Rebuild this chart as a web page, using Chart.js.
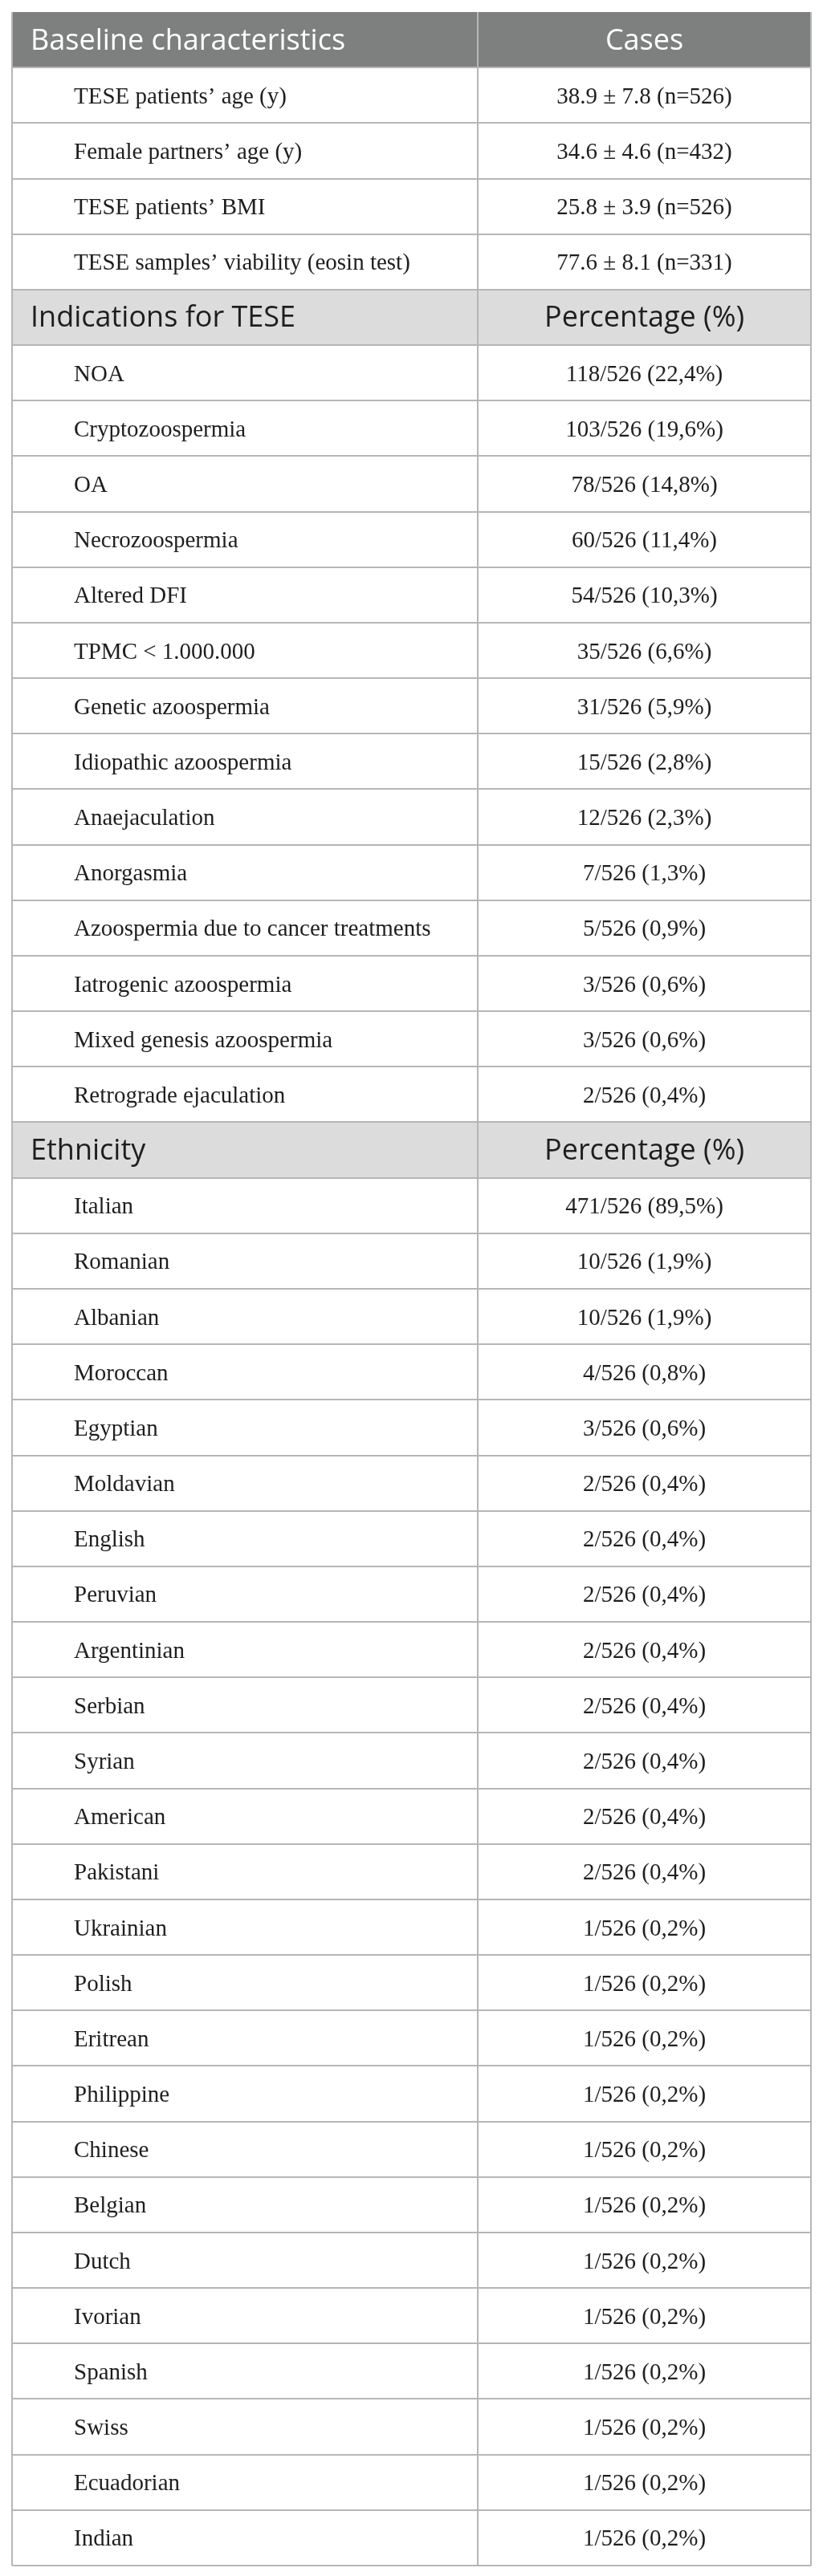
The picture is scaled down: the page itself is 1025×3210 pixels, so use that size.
<!DOCTYPE html>
<html>
<head>
<meta charset="utf-8">
<script src="https://cdn.jsdelivr.net/npm/chart.js@4/dist/chart.umd.min.js"></script>
<style>
  html, body { margin: 0; padding: 0; background: #fff; }
  #wrap { width: 1025px; height: 3210px; }
</style>
</head>
<body>
<div id="wrap"><canvas id="tableChart" width="1025" height="3210"></canvas></div>
<script>
// table content
const mainHeader = ['Baseline characteristics', 'Cases'];
const baselineLabels = ['TESE patients’ age (y)', 'Female partners’ age (y)', 'TESE patients’ BMI', 'TESE samples’ viability (eosin test)'];
const baselineMeans = [38.9, 34.6, 25.8, 77.6];
const baselineSDs = [7.8, 4.6, 3.9, 8.1];
const baselineN = [526, 432, 526, 331];

const indicationHeader = ['Indications for TESE', 'Percentage (%)'];
const indicationLabels = ['NOA', 'Cryptozoospermia', 'OA', 'Necrozoospermia', 'Altered DFI', 'TPMC < 1.000.000',
  'Genetic azoospermia', 'Idiopathic azoospermia', 'Anaejaculation', 'Anorgasmia',
  'Azoospermia due to cancer treatments', 'Iatrogenic azoospermia', 'Mixed genesis azoospermia', 'Retrograde ejaculation'];
const indicationCounts = [118, 103, 78, 60, 54, 35, 31, 15, 12, 7, 5, 3, 3, 2];
const indicationPct = [22.4, 19.6, 14.8, 11.4, 10.3, 6.6, 5.9, 2.8, 2.3, 1.3, 0.9, 0.6, 0.6, 0.4];

const ethnicityHeader = ['Ethnicity', 'Percentage (%)'];
const ethnicityLabels = ['Italian', 'Romanian', 'Albanian', 'Moroccan', 'Egyptian', 'Moldavian', 'English', 'Peruvian',
  'Argentinian', 'Serbian', 'Syrian', 'American', 'Pakistani', 'Ukrainian', 'Polish', 'Eritrean', 'Philippine',
  'Chinese', 'Belgian', 'Dutch', 'Ivorian', 'Spanish', 'Swiss', 'Ecuadorian', 'Indian'];
const ethnicityCounts = [471, 10, 10, 4, 3, 2, 2, 2, 2, 2, 2, 2, 2, 1, 1, 1, 1, 1, 1, 1, 1, 1, 1, 1, 1];
const ethnicityPct = [89.5, 1.9, 1.9, 0.8, 0.6, 0.4, 0.4, 0.4, 0.4, 0.4, 0.4, 0.4, 0.4, 0.2, 0.2, 0.2, 0.2, 0.2, 0.2, 0.2, 0.2, 0.2, 0.2, 0.2, 0.2];

const total = 526;
const colSplit = 0.583;  // share of width for the first column

function pct(n, p) {
    return n + '/' + total + ' (' + p.toFixed(1).replace('.', ',') + '%)';
}

// flatten everything into table rows
const rows = [];
rows.push({ type: 'main', label: mainHeader[0], value: mainHeader[1] });
baselineLabels.forEach((l, i) => rows.push({ type: 'item', label: l,
    value: baselineMeans[i].toFixed(1) + ' ± ' + baselineSDs[i].toFixed(1) + ' (n=' + baselineN[i] + ')' }));
rows.push({ type: 'section', label: indicationHeader[0], value: indicationHeader[1] });
indicationLabels.forEach((l, i) => rows.push({ type: 'item', label: l, value: pct(indicationCounts[i], indicationPct[i]) }));
rows.push({ type: 'section', label: ethnicityHeader[0], value: ethnicityHeader[1] });
ethnicityLabels.forEach((l, i) => rows.push({ type: 'item', label: l, value: pct(ethnicityCounts[i], ethnicityPct[i]) }));

const fills = { main: '#7e807f', section: '#dcdcdc', item: '#ffffff' };
const lineColor = '#b6b6b6';

// writes the cell texts at the positions given by the scales
const cellText = {
    id: 'cellText',
    afterDraw(chart) {
        const ctx = chart.ctx;
        const xs = chart.scales.x, ys = chart.scales.y;
        const left = xs.getPixelForValue(0);
        const mid = xs.getPixelForValue((colSplit + 1) / 2);
        ctx.save();
        ctx.textBaseline = 'alphabetic';
        rows.forEach((r, i) => {
            const y = ys.getPixelForValue(i);
            if (r.type === 'item') {
                ctx.font = '29px "Liberation Serif", "DejaVu Serif", serif';
                ctx.fillStyle = '#1e1e1e';
                ctx.textAlign = 'left';
                ctx.fillText(r.label, left + 77, y + 10);
                ctx.textAlign = 'center';
                ctx.fillText(r.value, mid, y + 10);
            } else {
                ctx.font = '36px "Open Sans", "Noto Sans", sans-serif';
                ctx.fillStyle = r.type === 'main' ? '#ffffff' : '#1e1e1e';
                ctx.textAlign = 'left';
                ctx.fillText(r.label, left + 23, y + 12);
                ctx.textAlign = 'center';
                ctx.fillText(r.value, mid, y + 12);
            }
        });
        ctx.restore();
    }
};

const ctx = document.getElementById('tableChart').getContext('2d');
const tableChart = new Chart(ctx, {
    type: 'bar',
    data: {
        labels: rows.map((r, i) => String(i)),
        datasets: [{
            data: rows.map(() => [0, 1]),
            backgroundColor: rows.map(r => fills[r.type]),
            borderWidth: 0,
            barPercentage: 1,
            categoryPercentage: 1
        }]
    },
    options: {
        indexAxis: 'y',
        responsive: false,
        devicePixelRatio: 1,
        animation: false,
        events: [],
        layout: { padding: { left: 15, right: 15, top: 15, bottom: 13 } },
        plugins: { legend: { display: false }, tooltip: { enabled: false } },
        scales: {
            x: {
                min: 0,
                max: 1,
                afterBuildTicks: scale => { scale.ticks = [0, colSplit, 1].map(v => ({ value: v })); },
                ticks: { display: false },
                border: { display: false },
                grid: { z: 1, color: lineColor, lineWidth: 2, drawTicks: false }
            },
            y: {
                ticks: { display: false },
                border: { display: false },
                grid: {
                    z: 1,
                    offset: true,
                    drawTicks: false,
                    lineWidth: 2,
                    // no line above the dark header
                    color: c => c.index === 0 ? 'rgba(0,0,0,0)' : lineColor
                }
            }
        }
    },
    plugins: [cellText]
});
</script>
</body>
</html>
